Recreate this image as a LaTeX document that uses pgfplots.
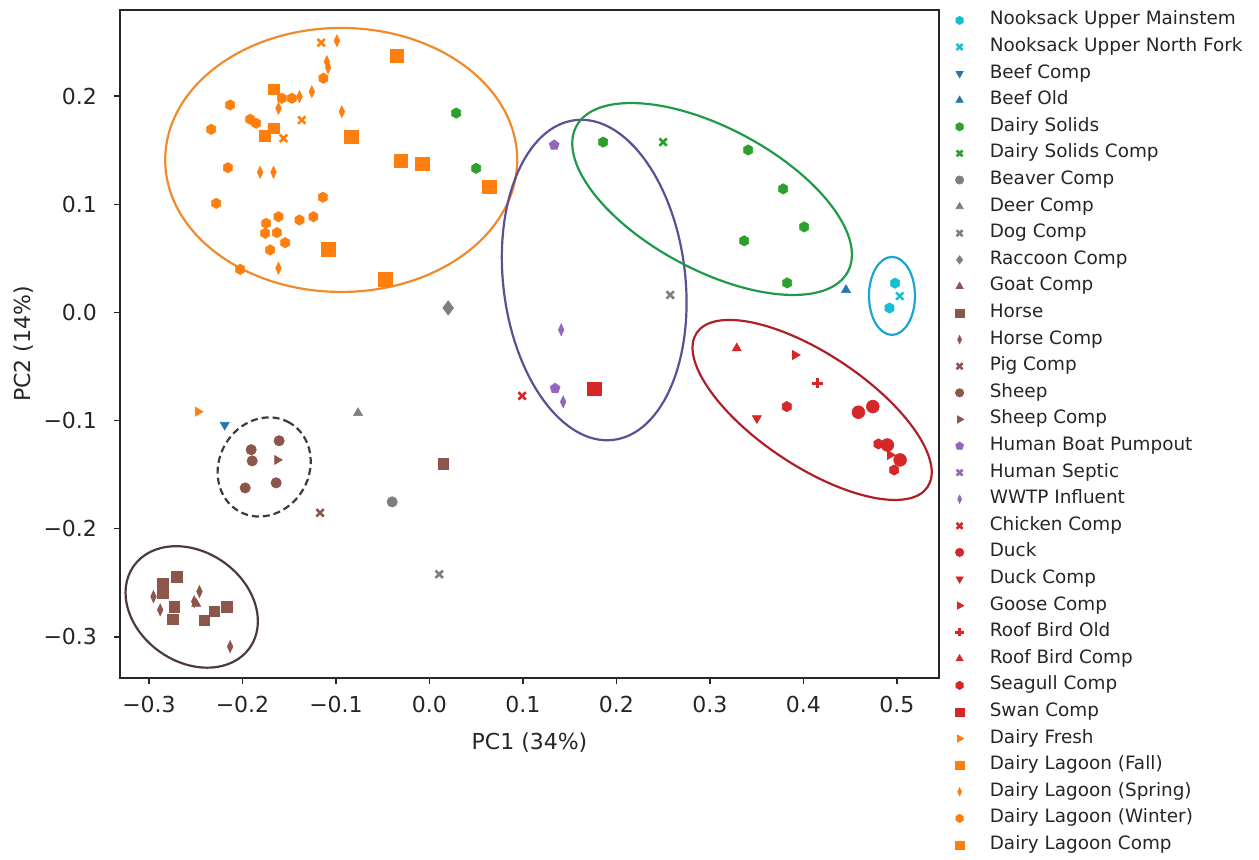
\documentclass[border=0pt]{standalone}
\usepackage{pgfplots}
\pgfplotsset{compat=1.18}
\usepackage{fontspec}
\setmainfont{DejaVu Sans}
\definecolor{cCyan}{HTML}{17BECF}
\definecolor{cBlue}{HTML}{1F77B4}
\definecolor{cGreen}{HTML}{2CA02C}
\definecolor{cGray}{HTML}{7F7F7F}
\definecolor{cBrown}{HTML}{8C564B}
\definecolor{cPurple}{HTML}{9467BD}
\definecolor{cRed}{HTML}{D62728}
\definecolor{cOrange}{HTML}{FF7F0E}
\definecolor{cTxt}{HTML}{262626}
\definecolor{ePurple}{HTML}{5E4E94}
\definecolor{eGreen}{HTML}{1F9A4A}
\definecolor{eCyan}{HTML}{1AA6D0}
\definecolor{eRed}{HTML}{B01E2A}
\definecolor{eOrange}{HTML}{F08A2A}
\definecolor{eDash}{HTML}{3C3C3C}
\definecolor{eBrown}{HTML}{4D3A3A}
\pgfdeclareplotmark{hexagon*}{%
  \pgfpathmoveto{\pgfpointpolar{90}{\pgfplotmarksize}}%
  \pgfpathlineto{\pgfpointpolar{150}{\pgfplotmarksize}}%
  \pgfpathlineto{\pgfpointpolar{210}{\pgfplotmarksize}}%
  \pgfpathlineto{\pgfpointpolar{270}{\pgfplotmarksize}}%
  \pgfpathlineto{\pgfpointpolar{330}{\pgfplotmarksize}}%
  \pgfpathlineto{\pgfpointpolar{30}{\pgfplotmarksize}}%
  \pgfpathclose
  \pgfusepathqfillstroke
}
\pgfplotsset{
  pt/.style={only marks, color=#1, mark size=2.6pt, mark options={solid, line width=0.3pt}},
  xm/.style={mark=x, every mark/.append style={line width=1.3pt}},
  thind/.style={mark=diamond*, every mark/.append style={xscale=0.62}, mark size=3pt},
}
\begin{document}
\begin{tikzpicture}
\begin{axis}[
  scale only axis, width=409.5pt, height=334pt,
  xmin=-0.331, xmax=0.545, ymin=-0.338, ymax=0.2795,
  axis line style={cTxt, line width=0.6pt},
  tick pos=left, tick align=outside, major tick length=3pt,
  tick style={cTxt, line width=0.6pt},
  xtick={-0.3,-0.2,-0.1,0,0.1,0.2,0.3,0.4,0.5},
  xticklabels={−0.3,−0.2,−0.1,0.0,0.1,0.2,0.3,0.4,0.5},
  ytick={-0.3,-0.2,-0.1,0,0.1,0.2},
  yticklabels={−0.3,−0.2,−0.1,0.0,0.1,0.2},
  ticklabel style={font=\fontsize{11}{13}\selectfont, text=cTxt},
  xticklabel style={yshift=-2.5pt},
  yticklabel style={xshift=-5pt},
  label style={font=\fontsize{11}{13}\selectfont, text=cTxt},
  xlabel style={yshift=-3pt},
  ylabel style={yshift=-2pt},
  xlabel={PC1 (34\%)}, ylabel={PC2 (14\%)},
  legend style={draw=none, fill=none, at={(1,1)}, anchor=north west, xshift=8pt, yshift=-0.75pt,
    font=\fontsize{9.2}{10}\selectfont, inner sep=0pt, row sep=4.8pt, column sep=11pt,
    nodes={inner ysep=0pt, text height=6.5pt, text depth=2pt, text=cTxt}},
  legend image post style={mark size=2.1pt},
  legend cell align=left,
]
% ellipses
\draw[eOrange, line width=1.1pt] (axis cs:-0.0944,0.1409) circle [x radius=88pt, y radius=66pt];
\draw[ePurple, line width=1.1pt] (axis cs:0.1762,0.0299) circle [x radius=80.5pt, y radius=45.5pt, rotate=96.8];
\draw[eGreen, line width=1.1pt] (axis cs:0.3023,0.1048) circle [x radius=77pt, y radius=35.5pt, rotate=-28.2];
\draw[eCyan, line width=1.1pt] (axis cs:0.4947,0.0152) circle [x radius=11.5pt, y radius=19.5pt];
\draw[eRed, line width=1.1pt] (axis cs:0.4093,-0.0902) circle [x radius=69.4pt, y radius=28pt, rotate=-33.7];
\draw[eDash, line width=1.1pt, dash pattern=on 3.5pt off 2pt] (axis cs:-0.1768,-0.1429) circle [x radius=25.5pt, y radius=22.5pt, rotate=60];
\draw[eBrown, line width=1.1pt] (axis cs:-0.2543,-0.2723) circle [x radius=35.5pt, y radius=27.5pt, rotate=-35];

\addplot[pt=cOrange, xm, forget plot] coordinates {(-0.1158,0.2493) (-0.1365,0.1778) (-0.1561,0.1609)};

\addplot[pt=cCyan, mark=hexagon*] coordinates {(0.498,0.027) (0.492,0.004)};
\addlegendentry{Nooksack Upper Mainstem}
\addplot[pt=cCyan, xm] coordinates {(0.503,0.015)};
\addlegendentry{Nooksack Upper North Fork}
\addplot[pt=cBlue, mark=triangle*, every mark/.append style={rotate=180}] coordinates {(-0.219,-0.104)};
\addlegendentry{Beef Comp}
\addplot[pt=cBlue, mark=triangle*] coordinates {(0.4455,0.0207)};
\addlegendentry{Beef Old}
\addplot[pt=cGreen, mark=hexagon*] coordinates {(0.1858,0.1574) (0.3409,0.1501) (0.3783,0.1141) (0.4008,0.0790) (0.3366,0.0661) (0.3826,0.0272) (0.0286,0.1842) (0.0500,0.1331)};
\addlegendentry{Dairy Solids}
\addplot[pt=cGreen, xm] coordinates {(0.2499,0.1574)};
\addlegendentry{Dairy Solids Comp}
\addplot[pt=cGray, mark=*] coordinates {(-0.0399,-0.1752)};
\addlegendentry{Beaver Comp}
\addplot[pt=cGray, mark=triangle*] coordinates {(-0.0764,-0.0930)};
\addlegendentry{Deer Comp}
\addplot[pt=cGray, xm] coordinates {(0.2575,0.0161) (0.0104,-0.2421)};
\addlegendentry{Dog Comp}
\addplot[pt=cGray, mark=diamond*, mark size=3.6pt] coordinates {(0.0200,0.0041)};
\addlegendentry{Raccoon Comp}
\addplot[pt=cBrown, mark=triangle*] coordinates {(-0.2495,-0.2693)};
\addlegendentry{Goat Comp}
\addplot[pt=cBrown, mark=square*] coordinates {(-0.2702,-0.2443) (-0.2851,-0.2504) (-0.2851,-0.2596) (-0.2731,-0.2720) (-0.2744,-0.2836) (-0.2410,-0.2849) (-0.2303,-0.2766) (-0.2167,-0.2720) (0.0147,-0.1399)};
\addlegendentry{Horse}
\addplot[pt=cBrown, thind] coordinates {(-0.2460,-0.2581) (-0.2517,-0.2674) (-0.2132,-0.3090) (-0.2952,-0.2628) (-0.2880,-0.2750)};
\addlegendentry{Horse Comp}
\addplot[pt=cBrown, xm] coordinates {(-0.1170,-0.1853)};
\addlegendentry{Pig Comp}
\addplot[pt=cBrown, mark=*] coordinates {(-0.1608,-0.1187) (-0.1907,-0.1270) (-0.1896,-0.1373) (-0.1640,-0.1576) (-0.1971,-0.1623)};
\addlegendentry{Sheep}
\addplot[pt=cBrown, mark=triangle*, every mark/.append style={rotate=-90}] coordinates {(-0.1629,-0.1364)};
\addlegendentry{Sheep Comp}
\addplot[pt=cPurple, mark=pentagon*] coordinates {(0.1334,0.1547) (0.1344,-0.0702)};
\addlegendentry{Human Boat Pumpout}
\addlegendimage{only marks, color=cPurple, mark size=2.6pt, mark=x, every mark/.append style={line width=1.3pt}}
\addlegendentry{Human Septic}
\addplot[pt=cPurple, thind] coordinates {(0.1409,-0.0161) (0.1430,-0.0827)};
\addlegendentry{WWTP Influent}
\addplot[pt=cRed, xm] coordinates {(0.0991,-0.0772)};
\addlegendentry{Chicken Comp}
\addplot[pt=cRed, mark=*, mark size=3.2pt] coordinates {(0.4588,-0.0923) (0.4742,-0.0871) (0.4898,-0.1226) (0.5034,-0.1364)};
\addlegendentry{Duck}
\addplot[pt=cRed, mark=triangle*, every mark/.append style={rotate=180}] coordinates {(0.3502,-0.0979)};
\addlegendentry{Duck Comp}
\addplot[pt=cRed, mark=triangle*, every mark/.append style={rotate=-90}] coordinates {(0.3911,-0.0394) (0.4927,-0.1318)};
\addlegendentry{Goose Comp}
\addplot[pt=cRed, mark=+, every mark/.append style={line width=1.3pt}] coordinates {(0.4150,-0.0655)};
\addlegendentry{Roof Bird Old}
\addplot[pt=cRed, mark=triangle*] coordinates {(0.3287,-0.0332)};
\addlegendentry{Roof Bird Comp}
\addplot[pt=cRed, mark=hexagon*] coordinates {(0.3822,-0.0871) (0.4802,-0.1216) (0.4970,-0.1457)};
\addlegendentry{Seagull Comp}
\addplot[pt=cRed, mark=square*, mark size=3.3pt] coordinates {(0.1762,-0.0707)};
\addlegendentry{Swan Comp}
\addplot[pt=cOrange, mark=triangle*, every mark/.append style={rotate=-90}] coordinates {(-0.2477,-0.0918)};
\addlegendentry{Dairy Fresh}
\addplot[pt=cOrange, mark=square*, mark size=3.4pt] coordinates {(-0.0349,0.2370) (-0.0837,0.1624) (-0.0306,0.1402) (-0.0075,0.1372) (0.0639,0.1162) (-0.1080,0.0583) (-0.0474,0.0306)};
\addlegendentry{Dairy Lagoon (Fall)}
\addplot[pt=cOrange, thind] coordinates {(-0.0990,0.2511) (-0.1097,0.2317) (-0.1084,0.2262) (-0.1390,0.1994) (-0.1258,0.2040) (-0.1615,0.1886) (-0.0937,0.1855) (-0.1811,0.1295) (-0.1668,0.1295) (-0.1615,0.0408)};
\addlegendentry{Dairy Lagoon (Spring)}
\addplot[pt=cOrange, mark=hexagon*] coordinates {(-0.1134,0.2164) (-0.1579,0.1979) (-0.1472,0.1979) (-0.2132,0.1917) (-0.1918,0.1785) (-0.1854,0.1748) (-0.2335,0.1692) (-0.2156,0.1337) (-0.2281,0.1008) (-0.1140,0.1064) (-0.1615,0.0884) (-0.1390,0.0854) (-0.1241,0.0884) (-0.1747,0.0823) (-0.1632,0.0737) (-0.1757,0.0731) (-0.1543,0.0644) (-0.1704,0.0577) (-0.2025,0.0398)};
\addlegendentry{Dairy Lagoon (Winter)}
\addplot[pt=cOrange, mark=square*, mark size=2.7pt] coordinates {(-0.1661,0.2062) (-0.1661,0.1702) (-0.1757,0.1630)};
\addlegendentry{Dairy Lagoon Comp}
\end{axis}
\pgfresetboundingbox
\path ([shift={(-60pt,-90.5pt)}]current axis.south west) rectangle ([shift={(160pt,5pt)}]current axis.north east);
\end{tikzpicture}
\end{document}
